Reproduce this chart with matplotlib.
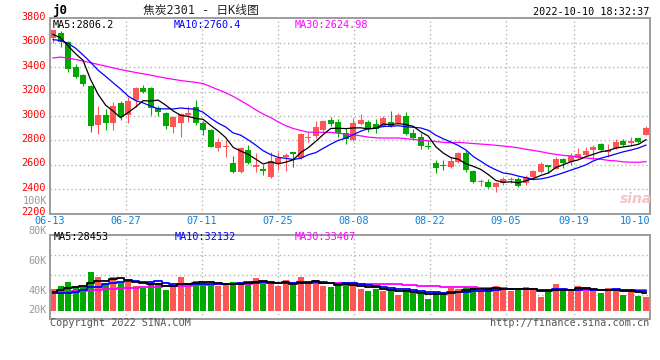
import numpy as np
import pandas as pd
import matplotlib
matplotlib.use('Agg')
import matplotlib.pyplot as plt
import matplotlib.transforms as mtransforms

plt.rcParams['font.family'] = ['DejaVu Sans Mono', 'Noto Sans CJK SC']

# daily candles 06-13 .. 10-10
opens = [3635, 3676, 3603, 3398, 3335, 3245, 2926, 3005, 2944, 3103,
         3005, 3130, 3232, 3225, 3068, 3026, 2906, 2944, 3010, 3075,
         2944, 2884, 2734, 2745, 2616, 2542, 2720, 2585, 2562, 2501,
         2611, 2665, 2700, 2652, 2816, 2835, 2884, 2966, 2952, 2857,
         2802, 2933, 2952, 2933, 2911, 2952, 2939, 2999, 2862, 2829,
         2753, 2616, 2597, 2583, 2624, 2698, 2551, 2458, 2460, 2414,
         2447, 2474, 2480, 2447, 2501, 2542, 2592, 2567, 2645, 2625,
         2652, 2679, 2720, 2767, 2708, 2734, 2794, 2785, 2816, 2843]
highs = [3708, 3698, 3614, 3425, 3346, 3250, 3080, 3060, 3110, 3120,
         3158, 3240, 3253, 3235, 3080, 3035, 3000, 3025, 3085, 3130,
         2955, 2890, 2816, 2802, 2671, 2747, 2761, 2693, 2597, 2706,
         2701, 2693, 2706, 2857, 2865, 2958, 2966, 2990, 2971, 2898,
         2980, 3015, 2966, 2971, 2999, 3043, 3026, 3034, 2889, 2857,
         2802, 2638, 2638, 2665, 2706, 2720, 2556, 2480, 2480, 2460,
         2501, 2501, 2496, 2515, 2556, 2624, 2597, 2665, 2652, 2698,
         2739, 2745, 2761, 2780, 2767, 2808, 2812, 2825, 2822, 2917]
lows = [3595, 3567, 3362, 3313, 3248, 2870, 2850, 2885, 2888, 2965,
        2940, 3070, 3185, 3007, 3002, 2890, 2862, 2830, 2952, 2925,
        2843, 2745, 2715, 2665, 2534, 2534, 2605, 2542, 2515, 2493,
        2556, 2551, 2583, 2645, 2783, 2816, 2870, 2920, 2829, 2770,
        2795, 2925, 2870, 2857, 2906, 2911, 2933, 2843, 2807, 2726,
        2726, 2534, 2556, 2570, 2616, 2542, 2447, 2425, 2406, 2378,
        2433, 2452, 2419, 2433, 2488, 2534, 2529, 2562, 2570, 2600,
        2645, 2672, 2650, 2705, 2665, 2725, 2752, 2755, 2775, 2840]
closes = [3706, 3608, 3384, 3322, 3259, 2920, 3005, 2938, 3078, 2990,
          3125, 3232, 3200, 3062, 3030, 2920, 2993, 3018, 3020, 2944,
          2884, 2747, 2788, 2750, 2542, 2734, 2611, 2592, 2551, 2630,
          2652, 2679, 2685, 2851, 2829, 2911, 2960, 2935, 2862, 2810,
          2939, 2966, 2890, 2890, 2980, 2917, 3007, 2851, 2816, 2756,
          2742, 2570, 2592, 2630, 2693, 2556, 2460, 2466, 2419, 2452,
          2480, 2482, 2425, 2501, 2548, 2605, 2583, 2649, 2616, 2668,
          2684, 2714, 2747, 2720, 2714, 2788, 2761, 2790, 2783, 2903]
volumes = [35750, 41250, 47850, 38500, 39600, 64350, 56100, 46200, 56100, 45100,
           47850, 41250, 37950, 45100, 45100, 34100, 40700, 55550, 46200, 48950,
           46200, 43450, 41250, 44000, 47300, 47300, 46200, 53900, 47300, 44000,
           40700, 50600, 41800, 55550, 44000, 50600, 40700, 39600, 41250, 46200,
           41800, 35750, 33000, 35200, 33000, 34100, 25850, 34100, 28600, 27500,
           19800, 30800, 30800, 36850, 35750, 39050, 37400, 33000, 35200, 40700,
           35200, 31900, 35750, 39050, 34100, 23100, 31350, 44000, 35750, 34100,
           40700, 33000, 33550, 29700, 37400, 35750, 25850, 34100, 24750, 23100]

# moving-average values before each window is full
ma5_head = [3668, 3640, 3575, 3510]
ma10_head = [3625, 3618, 3595, 3555, 3500, 3440, 3375, 3325, 3272]
ma30_head = [3475, 3482, 3475, 3462, 3450, 3436, 3422, 3408, 3394, 3380,
             3368, 3356, 3345, 3334, 3322, 3310, 3300, 3290, 3282, 3275,
             3265, 3240, 3215, 3190, 3160, 3125, 3090, 3050, 3015]
vma5_head = [31300, 34100, 37000, 38600]
vma10_head = [28700, 29200, 29800, 31400, 34100, 39600, 39600, 43500, 45100]
vma30_head = [30000, 30500, 31500, 32000, 32500, 33500, 34500, 35500, 36500, 37000,
              37500, 38000, 38500, 39000, 39500, 40000, 40500, 41000, 41500, 42000,
              42500, 43000, 43500, 43800, 44100, 44400, 44700, 45000, 45300]

tick_idx = [0, 10, 20, 30, 40, 50, 60, 69, 79]
tick_lbl = ['06-13', '06-27', '07-11', '07-25', '08-08', '08-22', '09-05', '09-19', '10-10']
price_levels = [2200, 2400, 2600, 2800, 3000, 3200, 3400, 3600, 3800]
vol_lbl = ['100K', '80K', '60K', '40K', '20K']


def with_head(series, n, head):
    m = pd.Series(series, dtype=float).rolling(n).mean().values
    m[:len(head)] = head
    return m


ma5 = with_head(closes, 5, ma5_head)
ma10 = with_head(closes, 10, ma10_head)
ma30 = with_head(closes, 30, ma30_head)
vma5 = with_head(volumes, 5, vma5_head)
vma10 = with_head(volumes, 10, vma10_head)
vma30 = with_head(volumes, 30, vma30_head)

RED = '#ff5555'
GREEN = '#00a800'
GRID = '#b4b4b4'
FRAME = '#9c9c9c'
FS = 7.3

W, H = 660, 360
fig = plt.figure(figsize=(6.6, 3.6), dpi=100, facecolor='white')


def fx(px):
    return px / W


def fy(py):
    return 1 - py / H


ax = fig.add_axes([fx(50), fy(213.5), 600 / W, (213.5 - 18.3) / H])
axv = fig.add_axes([fx(50), fy(318.7), 600 / W, (318.7 - 234.7) / H])

n = len(closes)
x = np.arange(n)
step = 593 / (n - 1)          # px between candles
x0 = -3 / step
x1 = (600 - 3) / step


def grid_x(i):
    # sina spreads the date grid over the full width
    return (i * 600 / (n - 1) - 3) / step


o = np.array(opens, float)
c = np.array(closes, float)
up = c >= o
cols = np.where(up, RED, GREEN)

for a in (ax, axv):
    a.set_xlim(x0, x1)
    a.set_xticks([])
    for s in a.spines.values():
        s.set_color(FRAME)
        s.set_linewidth(1.4)
        s.set_zorder(5)
    for i in tick_idx[1:-1]:
        a.axvline(grid_x(i), color=GRID, lw=1, ls=(0, (1, 2)), zorder=0)

# price panel
ax.set_ylim(2200, 3800)
for lv in price_levels[1:-1]:
    ax.axhline(lv, color=GRID, lw=1, ls=(0, (1, 2)), zorder=0)
ax.set_yticks(price_levels)
ax.set_yticklabels([str(v) for v in price_levels])
ax.tick_params(axis='y', length=0, pad=3, labelcolor='#ff0000', labelsize=FS)
lift = mtransforms.ScaledTranslation(0, 0.022, fig.dpi_scale_trans)
for t in ax.get_yticklabels():
    t.set_transform(t.get_transform() + lift)

ax.vlines(x, lows, highs, colors=cols, lw=0.8, zorder=2)
mid = (o + c) / 2
body = np.maximum(np.abs(c - o), 12)
ax.bar(x, body, bottom=mid - body / 2, width=0.8, color=cols, linewidth=0, zorder=3)

ax.plot(x, ma30, color='#ff00ff', lw=0.9, zorder=4)
ax.plot(x, ma10, color='#0000ff', lw=0.9, zorder=4)
ax.plot(x, ma5, color='black', lw=0.9, zorder=4)

tb = mtransforms.blended_transform_factory(ax.transData, ax.transAxes)
for i, lb in zip(tick_idx, tick_lbl):
    if i == 0:
        ax.text(x0, -0.037, lb, transform=tb, ha='center', va='center', fontsize=FS, color='#0a7fd8')
    elif i == n - 1:
        ax.text(x1, -0.037, lb, transform=tb, ha='right', va='center', fontsize=FS, color='#0a7fd8')
    else:
        ax.text(grid_x(i), -0.037, lb, transform=tb, ha='center', va='center', fontsize=FS, color='#0a7fd8')

# volume panel
axv.set_ylim(-13200, 125400)
axv.set_yticks([])
for f in (0.762, 0.524, 0.286):
    axv.plot([0, 1], [f, f], transform=axv.transAxes, color=GRID, lw=1, ls=(0, (1, 2)), zorder=0)
axv.bar(x, volumes, width=0.8, color=cols, linewidth=0, zorder=2)
axv.plot(x, vma30, color='#ff00ff', lw=1.3, drawstyle='steps-mid', zorder=3)
axv.plot(x, vma10, color='#0000ff', lw=1.3, drawstyle='steps-mid', zorder=3)
axv.plot(x, vma5, color='black', lw=1.3, drawstyle='steps-mid', zorder=3)

for lb, py in zip(vol_lbl, [200.7, 230.7, 260.7, 290.7, 310.0]):
    fig.text(fx(47), fy(py), lb, ha='right', va='center', fontsize=FS, color='#999999')

# header texts
fig.text(fx(52), fy(10.5), 'j0', ha='left', va='center', fontsize=9, fontweight='bold', color='black')
fig.text(fx(201), fy(10.5), '焦炭2301 - 日K线图', ha='center', va='center', fontsize=8.5, color='#222222')
fig.text(fx(649), fy(12), '2022-10-10 18:32:37', ha='right', va='center', fontsize=FS, color='black')

fig.text(fx(53), fy(24.5), 'MA5:%.1f' % 2806.2, ha='left', va='center', fontsize=FS, color='black')
fig.text(fx(174), fy(24.5), 'MA10:%.1f' % 2760.4, ha='left', va='center', fontsize=FS, color='#0000ff')
fig.text(fx(295), fy(24.5), 'MA30:%.2f' % 2624.98, ha='left', va='center', fontsize=FS, color='#ff00ff')

fig.text(fx(54), fy(237), 'MA5:28453', ha='left', va='center', fontsize=FS, color='black')
fig.text(fx(175), fy(237), 'MA10:32132', ha='left', va='center', fontsize=FS, color='#0000ff')
fig.text(fx(295), fy(237), 'MA30:33467', ha='left', va='center', fontsize=FS, color='#ff00ff')

fig.text(fx(50), fy(323.5), 'Copyright 2022 SINA.COM', ha='left', va='center', fontsize=FS, color='#555555')
fig.text(fx(649), fy(323.5), 'http://finance.sina.com.cn', ha='right', va='center', fontsize=FS, color='#555555')

fig.text(fx(636), fy(199), 'sina', ha='center', va='center', fontsize=10, fontstyle='italic',
         fontweight='bold', color='#f2c4c4', family='DejaVu Sans')

fig.savefig('out.png', dpi=100, facecolor='white')
